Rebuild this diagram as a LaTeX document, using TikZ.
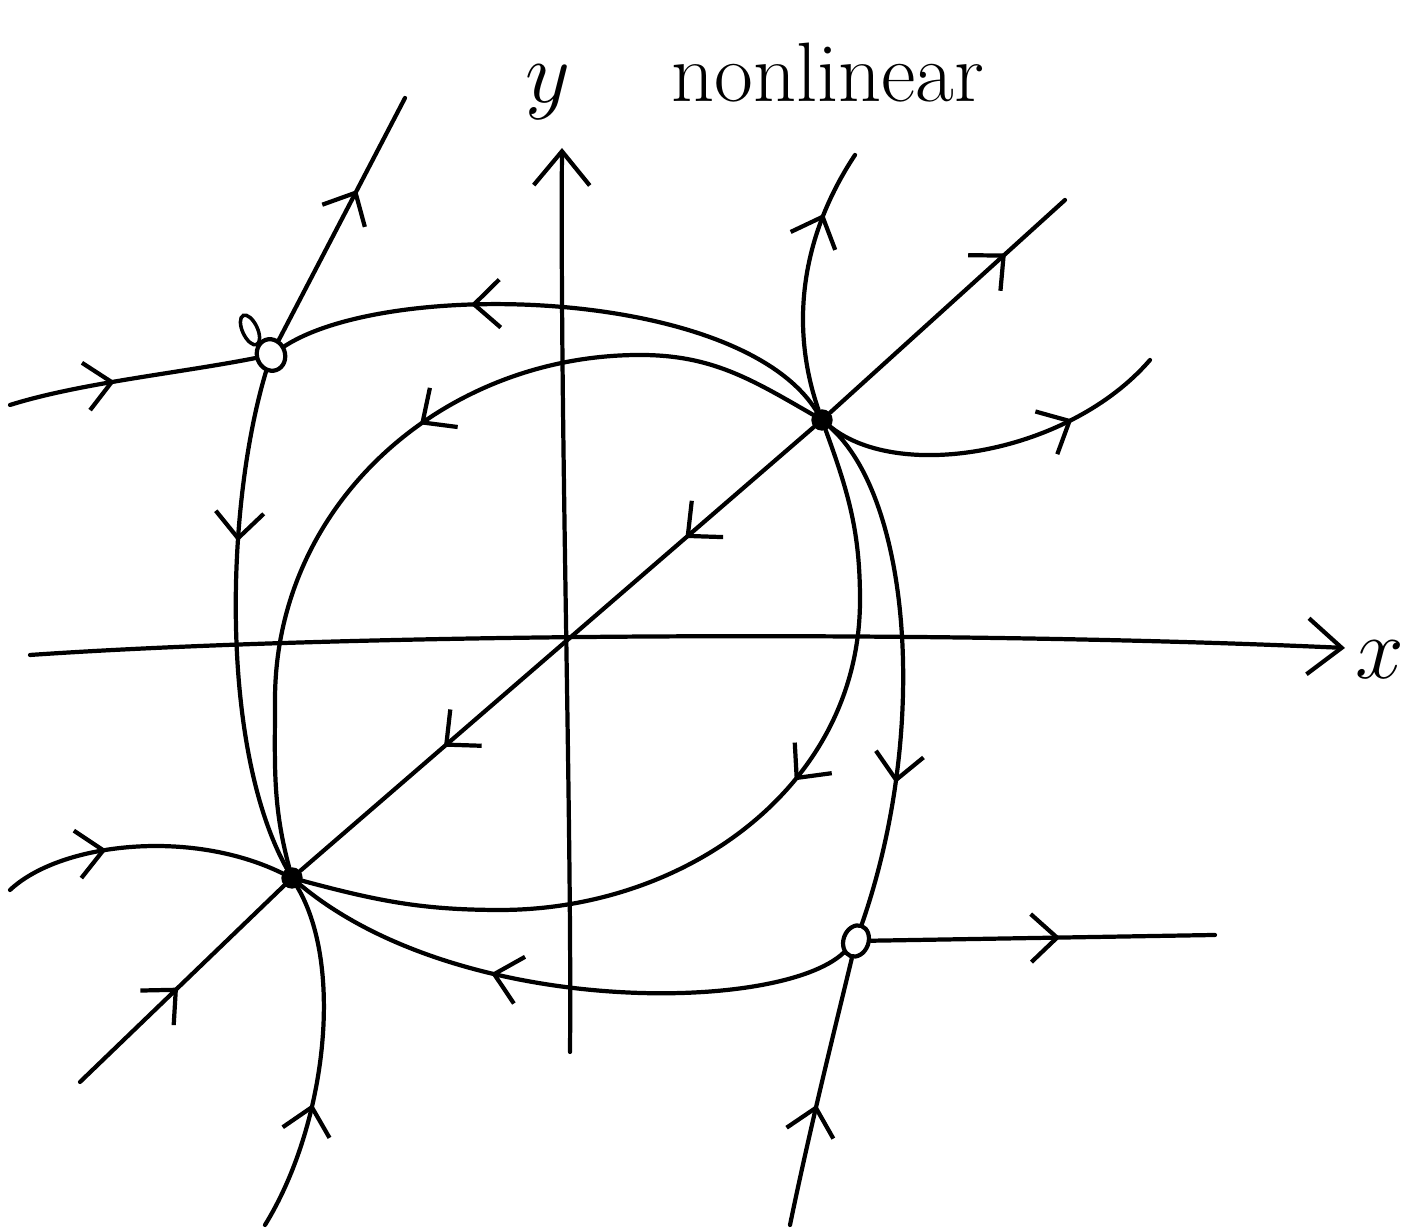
\documentclass[tikz,border=0pt]{standalone}
\usepackage{tikz}
\usetikzlibrary{arrows.meta, decorations.markings, shapes.geometric}

\tikzset{
  % Trajectories
  orbit/.style={line width=1.2pt, draw=black, line cap=round},
  flowpos/.style={postaction={decorate, decoration={markings,
      mark=at position #1 with {\arrow{Straight Barb[length=2.6mm,width=4.8mm]}}}}},
  % Axes
  axisline/.style={line width=1.2pt, line cap=round, -{Straight Barb[length=3.4mm,width=5.6mm]}},
  axislabel/.style={font=\fontsize{28}{30}\selectfont},
  % Fixed points
  nodept/.style={circle, fill=black, draw=black, inner sep=0pt, minimum size=0.2cm},
  saddlept/.style={ellipse, draw=black, fill=white, line width=1.2pt, inner sep=0pt,
    minimum width=#1, minimum height=0.32cm},
  saddlept/.default={0.25cm},
}

\begin{document}
\begin{tikzpicture}
  \useasboundingbox (0,0) rectangle (14.14,12.28);

  % Axes
  \coordinate (xl) at (0.30,5.73);
  \coordinate (xr) at (13.45,5.80);
  \coordinate (yb) at (5.70,1.76);
  \coordinate (yt) at (5.62,10.80);
  \draw[axisline] (xl) .. controls (3.5,5.95) and (9.5,5.98) .. (xr);
  \draw[axisline] (yb) .. controls (5.72,4.0) and (5.60,8.0) .. (yt);
  \node[axislabel] (xlab) at (13.80,5.68) {$x$};
  \node[axislabel] (ylab) at (5.48,11.36) {$y$};
  \node[font=\fontsize{24}{28}\selectfont] (title) at (8.28,11.55) {nonlinear};

  % Fixed points
  \node[nodept] (src) at (8.22,8.08) {};
  \node[nodept] (sink) at (2.92,3.50) {};
  \node[saddlept=0.28cm, rotate=20] (sadA) at (2.71,8.73) {};
  \node[saddlept, rotate=-20] (sadB) at (8.56,2.87) {};
  \node[saddlept=0.15cm, line width=1pt, rotate=25] (blot) at (2.50,8.98) {};

  % Free ends
  \coordinate (dSW) at (0.80,1.46);
  \coordinate (dNE) at (10.65,10.28);
  \coordinate (upE) at (8.55,10.73);
  \coordinate (rE) at (11.50,8.68);
  \coordinate (lA) at (0.10,8.23);
  \coordinate (uA) at (4.05,11.30);
  \coordinate (lS) at (0.10,3.38);
  \coordinate (bS) at (2.65,0.03);
  \coordinate (rB) at (12.15,2.93);
  \coordinate (bB) at (7.90,0.03);
  \coordinate (itop) at (6.40,8.73);
  \coordinate (ileft) at (2.75,5.28);
  \coordinate (iright) at (8.60,6.28);
  \coordinate (ibot) at (5.00,3.18);

  % Diagonal
  \draw[orbit, flowpos=0.48] (dSW) -- (sink);
  \draw[orbit, flowpos=0.25, flowpos=0.72] (src) -- (sink);
  \draw[orbit, flowpos=0.75] (src) -- (dNE);

  % Leaving the source
  \draw[orbit, flowpos=0.75] (src) .. controls (7.9,9.0) and (8.0,9.9) .. (upE);
  \draw[orbit, flowpos=0.72] (src) .. controls (9.0,7.45) and (10.7,7.75) .. (rE);
  \draw[orbit, flowpos=0.66] (src) .. controls (7.4,9.4) and (3.9,9.5) .. (sadA);
  \draw[orbit, flowpos=0.72] (src) .. controls (9.1,7.3) and (9.3,5.0) .. (sadB);
  \draw[orbit, flowpos=0.46] (src) to[out=150,in=0] (itop)
    to[out=180,in=90] (ileft) to[out=-90,in=105] (sink);
  \draw[orbit, flowpos=0.41] (src) to[out=-70,in=90] (iright)
    to[out=-90,in=0] (ibot) to[out=180,in=-15] (sink);

  % Saddle, upper left
  \draw[orbit, flowpos=0.43] (lA) .. controls (0.8,8.45) and (1.8,8.55) .. (sadA);
  \draw[orbit, flowpos=0.62] (sadA) -- (uA);
  \draw[orbit, flowpos=0.34] (sadA) .. controls (2.25,7.2) and (2.2,4.8) .. (sink);

  % Into the sink
  \draw[orbit, flowpos=0.37] (lS) .. controls (0.6,3.85) and (1.9,4.0) .. (sink);
  \draw[orbit, flowpos=0.37] (bS) .. controls (3.25,1.0) and (3.45,2.6) .. (sink);

  % Saddle, lower right
  \draw[orbit, flowpos=0.63] (sadB) .. controls (7.8,2.15) and (4.6,2.1) .. (sink);
  \draw[orbit, flowpos=0.55] (sadB) -- (rB);
  \draw[orbit, flowpos=0.45] (bB) .. controls (8.1,1.0) and (8.35,2.0) .. (sadB);

\end{tikzpicture}
\end{document}
